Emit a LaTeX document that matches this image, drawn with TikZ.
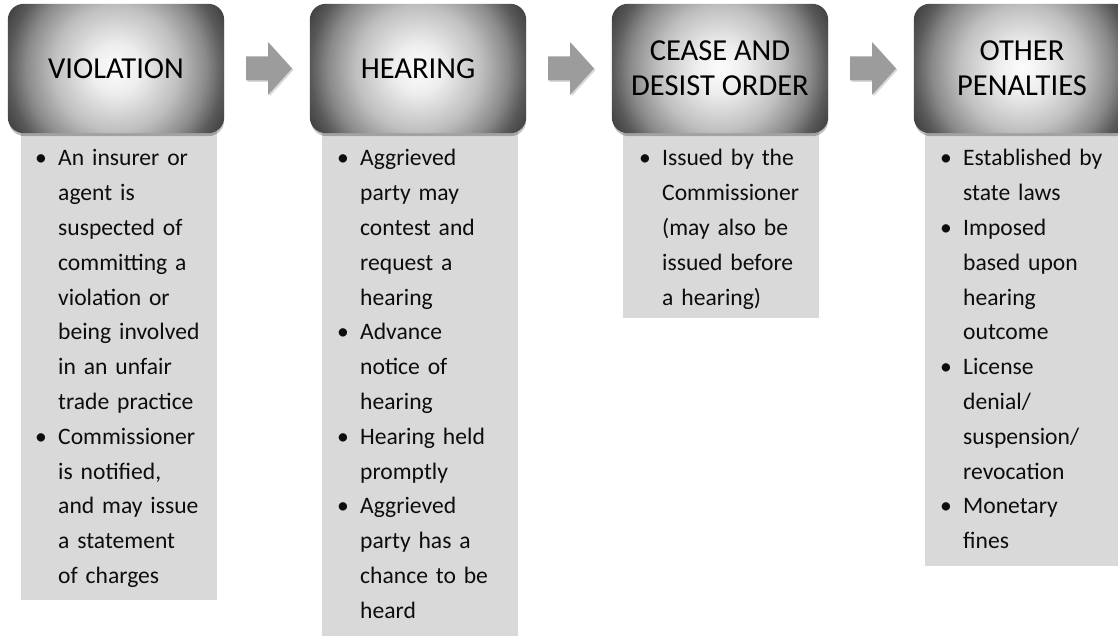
\documentclass[tikz,border=0pt]{standalone}
\usepackage{fontspec}
\setmainfont{Carlito}
\usetikzlibrary{calc,shadows}

% radial shading for the step headers: light centre, dark sides
% (TikZ fits the central 50bp square to the path, so 25bp is the circle's rim)
\pgfdeclareradialshading{hdrshade}{\pgfpoint{0bp}{0bp}}{%
  color(0bp)=(black!1); color(5bp)=(black!7); color(12.5bp)=(black!25);
  color(18bp)=(black!46); color(21.5bp)=(black!65); color(25bp)=(black!77);
  color(50bp)=(black!77)}

% bulleted item with hanging indent
\newcommand{\bitem}[1]{\noindent\hangindent=24pt\hangafter=1%
  \makebox[24pt][l]{\hspace{1pt}\textbullet}#1\par}

\definecolor{boxgray}{HTML}{D9D9D9}
\definecolor{arrowgray}{HTML}{9C9C9C}

\tikzset{
  hdr/.style={minimum width=216pt, minimum height=129pt,
    inner sep=0pt, align=center, text=black,
    font=\fontsize{30.5}{35}\selectfont},
  hdrbg/.style={rounded corners=16pt},
  hdrshadow/.style={rounded corners=16pt, fill=black, opacity=.25},
  tbox/.style={inner sep=0pt, anchor=north west, minimum width=196pt},
  tlist/.style={anchor=base west, inner sep=0pt, text width=240pt, align=left,
    text=black!95, font=\fontsize{23.6}{34.8}\selectfont},
  blockarrow/.style={fill=arrowgray},
  arrowshadow/.style={fill=black!30, opacity=.5}
}

\begin{document}
\begin{tikzpicture}[x=1pt, y=-1pt]
\useasboundingbox (0,0) rectangle (1118,636);
\clip (0,0) rectangle (1118,636);

% frames of the grey text panels below the headers
\node[tbox, minimum height=485pt] (b1) at (21,115) {};
\node[tbox, minimum height=530pt] (b2) at (322,115) {};
\node[tbox, minimum height=203pt] (b3) at (623,115) {};
\node[tbox, minimum height=451pt] (b4) at (925,115) {};

% step headers (text only; backgrounds are drawn on the lower layer)
\node[hdr] (h1) at (116,68.5) {VIOLATION};
\node[hdr] (h2) at (418,68.5) {HEARING};
\node[hdr] (h3) at (720,68.5) {CEASE AND\\DESIST ORDER};
\node[hdr] (h4) at (1022,68.5) {OTHER\\PENALTIES};

% panel fills, then shaded rounded backgrounds behind the header texts
\pgfdeclarelayer{hdrlayer}
\pgfsetlayers{hdrlayer,main}
\begin{pgfonlayer}{hdrlayer}
  \foreach \b in {b1,b2,b3,b4}
    \fill[boxgray] (\b.north west) rectangle (\b.south east);
  \foreach \h in {h1,h2,h3,h4}{
    \fill[hdrshadow] ($(\h.north west)+(1,3)$) rectangle ($(\h.south east)+(0,3)$);
    \begin{scope}
      \clip[hdrbg] (\h.north west) rectangle (\h.south east);
      \shade[shading=hdrshade] (\h.center) circle[radius=125pt];
    \end{scope}
  }
\end{pgfonlayer}

% block arrows between consecutive headers
\foreach \a/\b in {h1/h2, h2/h3, h3/h4}{
  \coordinate (m) at ($(\a.east)!0.5!(\b.west)$);
  \fill[arrowshadow] ($(m)+(-19.5,-10.5)$) -- ($(m)+(2.5,-10.5)$) -- ($(m)+(2.5,-25)$)
    -- ($(m)+(26.5,1.5)$) -- ($(m)+(2.5,28)$) -- ($(m)+(2.5,13.5)$)
    -- ($(m)+(-19.5,13.5)$) -- cycle;
  \fill[blockarrow] ($(m)+(-21,-12)$) -- ($(m)+(1,-12)$) -- ($(m)+(1,-26.5)$)
    -- ($(m)+(25,0)$) -- ($(m)+(1,26.5)$) -- ($(m)+(1,12)$)
    -- ($(m)+(-21,12)$) -- cycle;
}

% bulleted texts
\node[tlist] (t1) at (34,166) {%
  \bitem{An insurer or\newline agent is\newline suspected of\newline committing a\newline
    violation or\newline being involved\newline in an unfair\newline trade practice}%
  \bitem{Commissioner\newline is notified,\newline and may issue\newline a statement\newline
    of charges}};
\node[tlist] (t2) at (336,166) {%
  \bitem{Aggrieved\newline party may\newline contest and\newline request a\newline hearing}%
  \bitem{Advance\newline notice of\newline hearing}%
  \bitem{Hearing held\newline promptly}%
  \bitem{Aggrieved\newline party has a\newline chance to be\newline heard}};
\node[tlist] (t3) at (638,166) {%
  \bitem{Issued by the\newline Commissioner\newline (may also be\newline
    issued before\newline a hearing)}};
\node[tlist] (t4) at (939,166) {%
  \bitem{Established by\newline state laws}%
  \bitem{Imposed\newline based upon\newline hearing\newline outcome}%
  \bitem{License\newline denial/\newline suspension/\newline revocation}%
  \bitem{Monetary\newline fines}};
\end{tikzpicture}
\end{document}
